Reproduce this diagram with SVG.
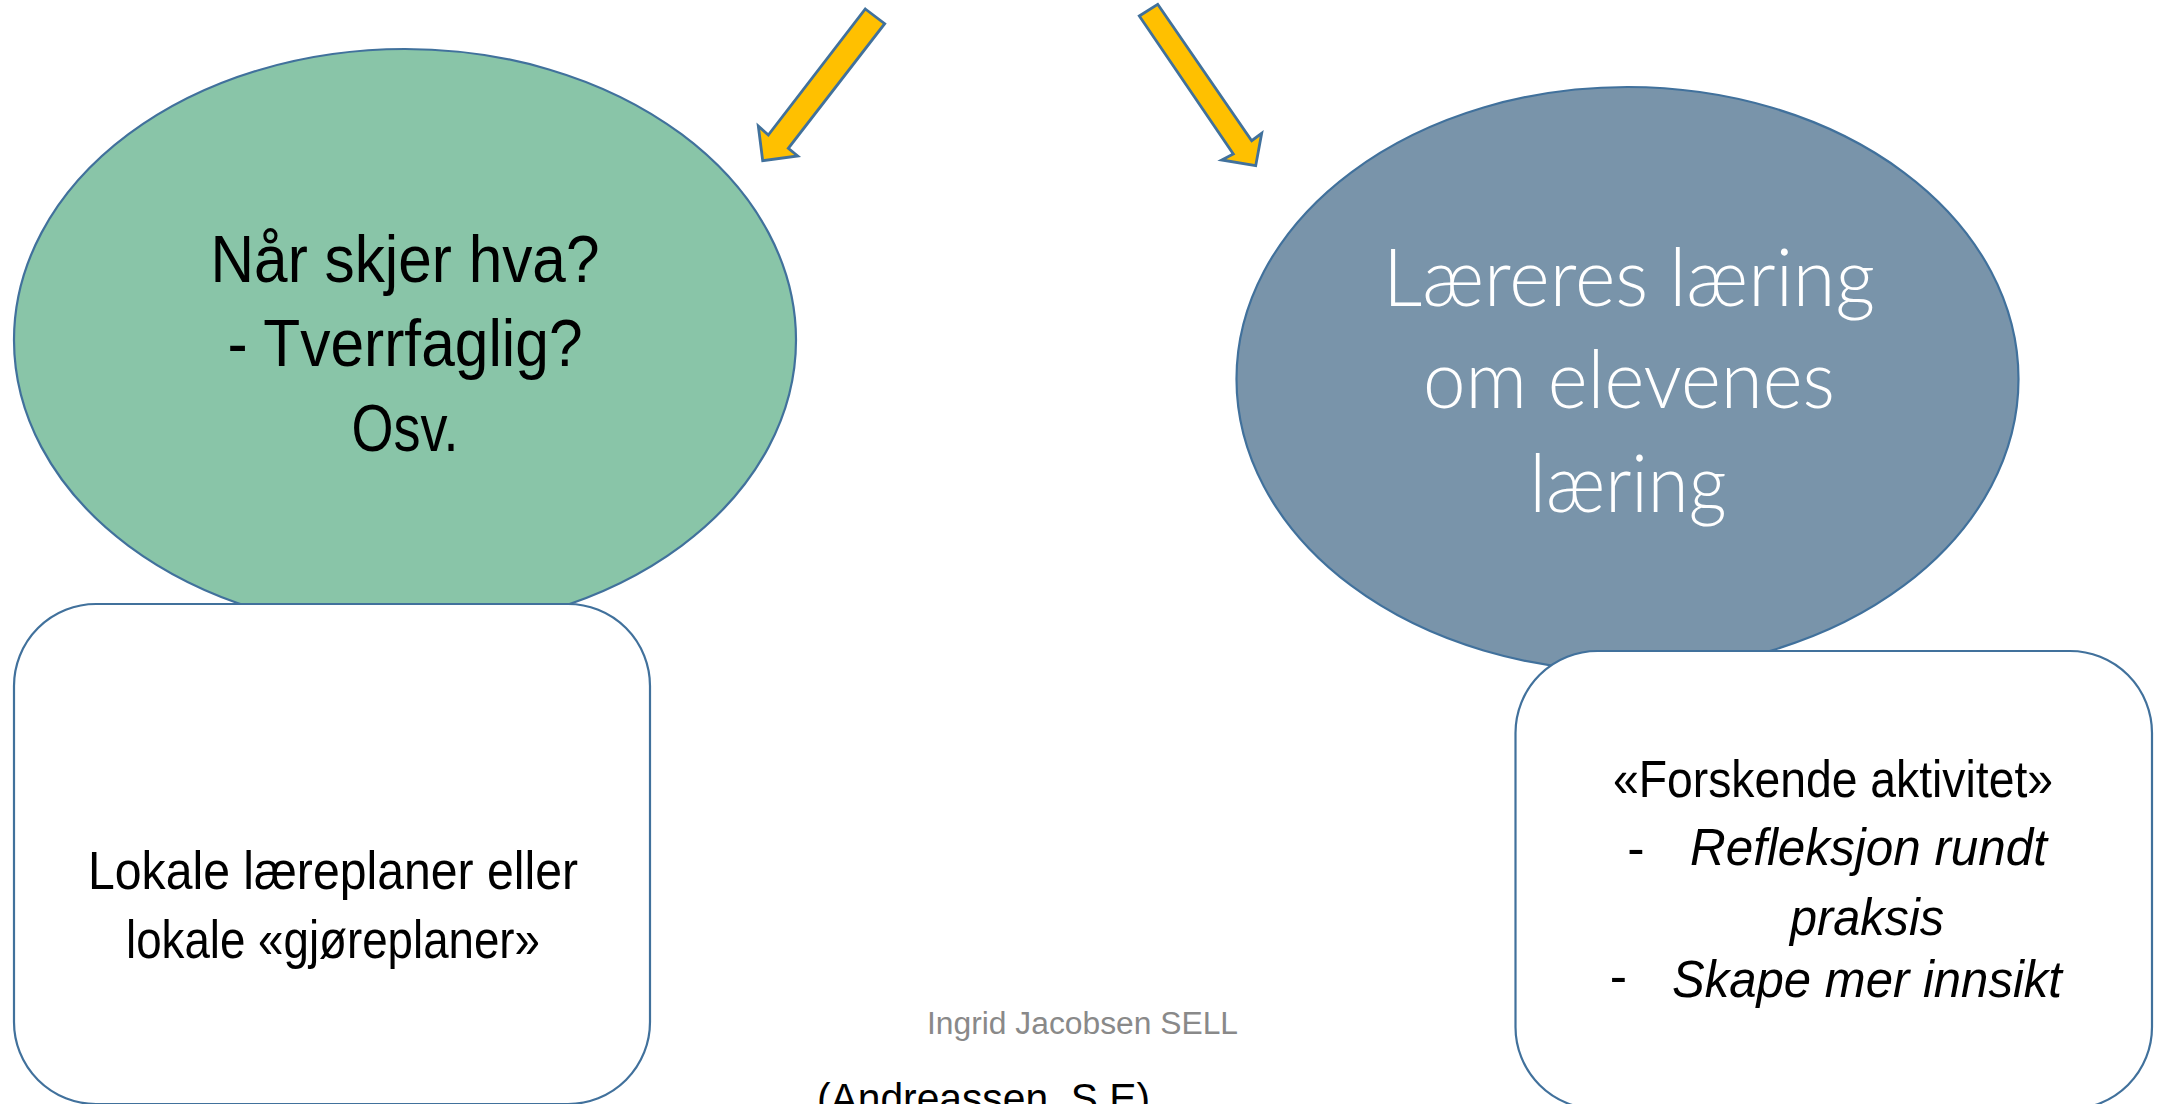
<svg xmlns="http://www.w3.org/2000/svg" width="2159" height="1104" viewBox="0 0 2159 1104">
<style>
.shape{stroke:#41719C;stroke-width:2.2}
.arrow{fill:#FFC000;stroke:#41719C;stroke-width:2.8;stroke-linejoin:miter}
.dark{font-family:"Liberation Sans",Arial,sans-serif;fill:#000;text-anchor:middle}
.light{font-family:Lato,"Open Sans","Liberation Sans",sans-serif;font-weight:300;fill:#fff;text-anchor:middle}
.it{font-style:italic}
</style>
<rect width="2159" height="1104" fill="#fff"/>
<g id="connectors">
<polygon class="arrow" points="865.3,9 884.7,23.7 788.3,148.3 797.7,156 762.7,160.7 758.3,126 768.3,135"/>
<polygon class="arrow" points="1157.7,4.3 1251.7,140.7 1261.7,133.3 1255.7,165.7 1221.7,160 1233.3,154 1139.3,16"/>
</g>
<g id="node-green">
<ellipse class="shape" cx="405" cy="340" rx="391" ry="291" fill="#89C5A8"/>
<text class="dark" font-size="66" x="405" y="282" textLength="389" lengthAdjust="spacingAndGlyphs">Når skjer hva?</text>
<text class="dark" font-size="66" x="405" y="366" textLength="355" lengthAdjust="spacingAndGlyphs">- Tverrfaglig?</text>
<text class="dark" font-size="66" x="405" y="451" textLength="107" lengthAdjust="spacingAndGlyphs">Osv.</text>
</g>
<g id="node-blue">
<ellipse class="shape" cx="1627.5" cy="379" rx="391" ry="292" fill="#7994AA"/>
<text class="light" font-size="80" x="1629" y="306" textLength="492" lengthAdjust="spacingAndGlyphs">Læreres læring</text>
<text class="light" font-size="80" x="1629" y="408" textLength="412" lengthAdjust="spacingAndGlyphs">om elevenes</text>
<text class="light" font-size="80" x="1628" y="512" textLength="197" lengthAdjust="spacingAndGlyphs">læring</text>
</g>
<g id="node-left-box">
<rect class="shape" x="14" y="604" width="636" height="500" rx="82" ry="82" fill="#fff"/>
<text class="dark" font-size="54" x="333" y="889" textLength="490" lengthAdjust="spacingAndGlyphs">Lokale læreplaner eller</text>
<text class="dark" font-size="54" x="333" y="958" textLength="414" lengthAdjust="spacingAndGlyphs">lokale «gjøreplaner»</text>
</g>
<g id="node-right-box">
<rect class="shape" x="1515.5" y="651" width="636.5" height="458" rx="82" ry="82" fill="#fff"/>
<text class="dark" font-size="52" x="1833" y="797" textLength="440" lengthAdjust="spacingAndGlyphs">«Forskende aktivitet»</text>
<text class="dark" font-size="52" x="1636" y="866" text-anchor="middle">-</text>
<text class="dark it" font-size="52" x="1868.5" y="865" textLength="357" lengthAdjust="spacingAndGlyphs">Refleksjon rundt</text>
<text class="dark it" font-size="52" x="1867" y="935" textLength="154" lengthAdjust="spacingAndGlyphs">praksis</text>
<text class="dark" font-size="52" x="1618.5" y="994" text-anchor="middle">-</text>
<text class="dark it" font-size="52" x="1867" y="997" textLength="390" lengthAdjust="spacingAndGlyphs">Skape mer innsikt</text>
</g>
<g id="footer">
<text font-family="Liberation Sans,Arial,sans-serif" font-size="31" fill="#898989" x="927" y="1034" textLength="311" lengthAdjust="spacingAndGlyphs">Ingrid Jacobsen SELL</text>
<text font-family="Liberation Sans,Arial,sans-serif" font-size="42" fill="#000" x="817" y="1113" textLength="333" lengthAdjust="spacingAndGlyphs">(Andreassen, S.E)</text>
</g>
</svg>
